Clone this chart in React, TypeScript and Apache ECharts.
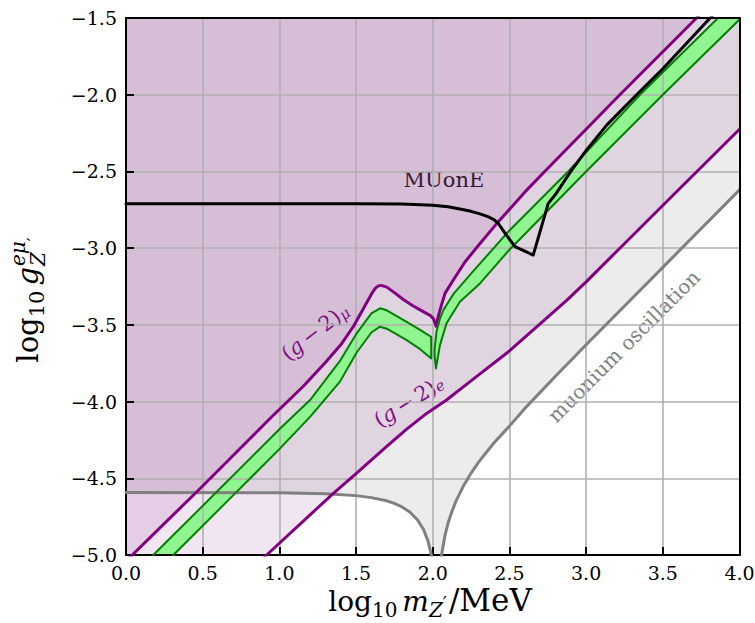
import { useEffect, useRef } from "react";
import * as echarts from "echarts";

type P = [number, number];

// ---- axes ----
const X_MIN = 0;
const X_MAX = 4;
const X_STEP = 0.5;
const Y_MIN = -5;
const Y_MAX = -1.5;
const Y_STEP = 0.5;

// ---- curves (log10 m/MeV, log10 g) ----
const GM2_MU: P[] = [
  [0.0, -5.04], [0.5, -4.55], [0.939, -4.11], [1.156, -3.9], [1.3, -3.745],
  [1.4, -3.63], [1.48, -3.515], [1.55, -3.39], [1.6, -3.3], [1.625, -3.262],
  [1.645, -3.246], [1.665, -3.243], [1.7, -3.254], [1.75, -3.29], [1.808, -3.335],
  [1.87, -3.375], [1.938, -3.414], [1.985, -3.44], [2.005, -3.46], [2.022, -3.51],
  [2.035, -3.45], [2.047, -3.404], [2.08, -3.295], [2.134, -3.208], [2.21, -3.09],
  [2.3, -2.98], [2.417, -2.84], [2.6, -2.635], [2.73, -2.5], [3.22, -2.0],
  [3.72, -1.5], [4.0, -1.22],
];

const GM2_E: P[] = [
  [0.0, -5.85], [0.917, -5.0], [1.35, -4.6], [1.5, -4.47], [1.7, -4.292],
  [1.83, -4.18], [1.95, -4.085], [2.09, -3.99], [2.243, -3.87], [2.5, -3.67],
  [2.72, -3.475], [2.873, -3.34], [3.0, -3.22], [3.2, -3.02], [3.568, -2.654],
  [4.0, -2.225],
];

const MUONIUM: P[] = [
  [0.0, -4.593], [1.0, -4.595], [1.3, -4.601], [1.5, -4.613], [1.6, -4.626],
  [1.7, -4.647], [1.75, -4.664], [1.8, -4.687], [1.85, -4.72], [1.9, -4.77],
  [1.94, -4.834], [1.97, -4.911], [1.99, -4.996], [2.005, -5.1], [2.02, -5.34],
  [2.027, -6.0], [2.035, -5.31], [2.05, -5.07], [2.06, -4.985], [2.08, -4.872],
  [2.1, -4.792], [2.125, -4.717], [2.15, -4.652], [2.2, -4.55], [2.25, -4.466],
  [2.3, -4.393], [2.4, -4.268], [2.5, -4.16], [2.6, -4.045], [2.7, -3.94],
  [2.8, -3.835], [3.0, -3.63], [3.5, -3.125], [4.0, -2.62],
];

const MUONE: P[] = [
  [0.0, -2.71], [1.0, -2.71], [1.5, -2.71], [1.8, -2.713], [2.0, -2.72],
  [2.1, -2.73], [2.177, -2.745], [2.25, -2.76], [2.308, -2.777], [2.36, -2.795],
  [2.4, -2.815], [2.427, -2.838], [2.48, -2.915], [2.536, -2.99], [2.6, -3.02],
  [2.655, -3.045], [2.753, -2.708], [2.797, -2.654], [2.9, -2.5], [3.003, -2.36],
  [3.134, -2.198], [3.329, -2.0], [3.503, -1.828], [3.807, -1.502], [3.85, -1.46],
];

// (g-2)_mu preferred band, two pieces
const BAND_L_HI: P[] = [
  [0.178, -5.0], [0.6, -4.58], [1.0, -4.18], [1.2, -3.99], [1.395, -3.735],
  [1.504, -3.555], [1.6, -3.425], [1.656, -3.392], [1.7, -3.405], [1.83, -3.48],
  [1.92, -3.535], [1.99, -3.578],
];
const BAND_L_LO: P[] = [
  [0.309, -5.0], [0.7, -4.61], [1.0, -4.31], [1.2, -4.1], [1.395, -3.87],
  [1.504, -3.68], [1.6, -3.55], [1.656, -3.512], [1.7, -3.525], [1.83, -3.6],
  [1.92, -3.66], [1.99, -3.72],
];
const BAND_R_HI: P[] = [
  [2.012, -3.66], [2.025, -3.54], [2.047, -3.46], [2.069, -3.404], [2.134, -3.3],
  [2.264, -3.15], [2.5, -2.885], [2.883, -2.5], [3.351, -2.0], [3.86, -1.5],
  [4.0, -1.36],
];
const BAND_R_LO: P[] = [
  [2.012, -3.7], [2.021, -3.784], [2.047, -3.632], [2.09, -3.49], [2.177, -3.35],
  [2.308, -3.23], [2.5, -3.01], [3.0, -2.5], [3.5, -2.0], [4.0, -1.51],
];

// ---- label anchors (data coords) ----
const LABEL_MUONE: P = [2.073, -2.601];
const LABEL_GMU: P = [1.262, -3.585];
const LABEL_GE: P = [1.871, -4.04];
const LABEL_MUONIUM: P = [3.279, -3.671];

const FONT = "'DejaVu Serif', 'Liberation Serif', serif";
const PURPLE = "#800080";
const GREEN = "#008000";
const GREEN_FILL = "#90f590";
const GRAY = "#808080";

function fmt(v: number): string {
  const s = Math.abs(v).toFixed(1);
  return v < 0 ? "\u2212" + s : s;
}

type Piece = { t: string; s: number; it?: boolean; sh?: number; gap?: number; stay?: boolean };

let measureCtx: CanvasRenderingContext2D | null = null;
function measure(t: string, s: number, it?: boolean): number {
  if (!measureCtx) measureCtx = document.createElement("canvas").getContext("2d");
  if (!measureCtx) return t.length * s * 0.6;
  measureCtx.font = `${it ? "italic " : ""}${s}px 'DejaVu Serif'`;
  return measureCtx.measureText(t).width;
}

function compose(pieces: Piece[], color: string) {
  let x = 0;
  let pending = 0;
  const items: any[] = [];
  for (const p of pieces) {
    const w = measure(p.t, p.s, p.it);
    items.push({
      type: "text",
      x,
      y: (p.sh || 0) - 0.35 * p.s,
      style: {
        text: p.t,
        fontFamily: FONT,
        fontSize: p.s,
        fontStyle: p.it ? "italic" : "normal",
        fill: color,
        align: "left",
        verticalAlign: "middle",
      },
      silent: true,
    });
    if (p.stay) {
      pending = Math.max(pending, w);
    } else {
      x += Math.max(w, pending) + (p.gap || 0);
      pending = 0;
    }
  }
  const total = x;
  for (const it of items) it.x -= total / 2;
  return items;
}

export default function App() {
  const ref = useRef<HTMLDivElement>(null);

  useEffect(() => {
    if (!ref.current) return;
    const chart = echarts.init(ref.current, null, { renderer: "svg" });

    const fill = (data: P[], color: string) => ({
      type: "line",
      data,
      symbol: "none",
      showSymbol: false,
      lineStyle: { width: 0, opacity: 0 },
      areaStyle: { origin: "end", color, opacity: 1 },
      z: 1,
      silent: true,
      clip: true,
    });
    const line = (data: P[], color: string, width: number, z = 6) => ({
      type: "line",
      data,
      symbol: "none",
      showSymbol: false,
      lineStyle: { color, width, cap: "round", join: "round" },
      z,
      silent: true,
      clip: true,
    });

    const axisLine = { show: true, onZero: false, lineStyle: { color: "#000", width: 2 } };
    const tickLabel = {
      show: true,
      formatter: (v: number) => fmt(v),
      fontFamily: FONT,
      fontSize: 19,
      color: "#000",
      showMinLabel: true,
      showMaxLabel: true,
      hideOverlap: false,
    };

    chart.setOption({
      animation: false,
      backgroundColor: "#ffffff",
      grid: { left: 126, top: 18, right: 15.5, bottom: 68, containLabel: false, outerBoundsMode: "none" },
      xAxis: [
        {
          type: "value",
          position: "bottom",
          min: X_MIN,
          max: X_MAX,
          interval: X_STEP,
          z: 3,
          axisLine,
          axisTick: { show: true, inside: true, length: 8, lineStyle: { color: "#000", width: 2 } },
          axisLabel: { ...tickLabel, margin: 8 },
          splitLine: { show: true, lineStyle: { color: "#b0b0b0", width: 1.6 } },
        },
        {
          type: "value",
          position: "top",
          min: X_MIN,
          max: X_MAX,
          interval: X_STEP,
          z: 8,
          axisLine,
          axisTick: { show: false },
          axisLabel: { show: false },
          splitLine: { show: false },
        },
      ],
      yAxis: [
        {
          type: "value",
          position: "left",
          min: Y_MIN,
          max: Y_MAX,
          interval: Y_STEP,
          z: 3,
          axisLine,
          axisTick: { show: true, inside: true, length: 8, lineStyle: { color: "#000", width: 2 } },
          axisLabel: { ...tickLabel, margin: 9 },
          splitLine: { show: true, lineStyle: { color: "#b0b0b0", width: 1.6 } },
        },
        {
          type: "value",
          position: "right",
          min: Y_MIN,
          max: Y_MAX,
          interval: Y_STEP,
          z: 8,
          axisLine,
          axisTick: { show: false },
          axisLabel: { show: false },
          splitLine: { show: false },
        },
      ],
      series: [
        fill(MUONIUM, "rgba(128,128,128,0.15)"),
        fill(GM2_E, "rgba(128,0,128,0.1)"),
        fill(GM2_MU, "rgba(128,0,128,0.1)"),
        {
          type: "custom",
          data: [[0, 0]],
          clip: true,
          z: 2,
          silent: true,
          renderItem: (_params: any, api: any) => {
            const poly = (hi: P[], lo: P[]) => ({
              type: "polygon",
              shape: {
                points: [...hi.map((p) => api.coord(p)), ...lo.slice().reverse().map((p) => api.coord(p))],
              },
              style: { fill: GREEN_FILL, stroke: null },
            });
            return {
              type: "group",
              children: [poly(BAND_L_HI, BAND_L_LO), poly(BAND_R_HI, BAND_R_LO)],
            };
          },
        },
        line(MUONIUM, GRAY, 3),
        line(GM2_E, PURPLE, 3),
        line(GM2_MU, PURPLE, 3),
        line([...BAND_L_HI, ...BAND_L_LO.slice().reverse()], GREEN, 2),
        line([...BAND_R_HI.slice().reverse(), ...BAND_R_LO], GREEN, 2),
        line(MUONE, "#000", 3, 7),
      ],
    });

    const px = (p: P) => chart.convertToPixel({ xAxisIndex: 0, yAxisIndex: 0 }, p) as unknown as number[];

    const mk = (p: P, rot: number, pieces: Piece[], color: string) => {
      const c = px(p);
      return {
        type: "group",
        x: c[0],
        y: c[1],
        rotation: (rot * Math.PI) / 180,
        z: 20,
        children: compose(pieces, color),
      };
    };

    const graphics: any[] = [
      mk(LABEL_MUONE, 0, [{ t: "MUonE", s: 21 }], "#111"),
      mk(
        LABEL_GMU,
        38,
        [
          { t: "(", s: 21 },
          { t: "g", s: 21, it: true, gap: 4 },
          { t: "\u2212", s: 21, gap: 4 },
          { t: "2)", s: 21 },
          { t: "\u03bc", s: 15, it: true, sh: 2 },
        ],
        PURPLE
      ),
      mk(
        LABEL_GE,
        32,
        [
          { t: "(", s: 21 },
          { t: "g", s: 21, it: true, gap: 4 },
          { t: "\u2212", s: 21, gap: 4 },
          { t: "2)", s: 21 },
          { t: "e", s: 15, it: true, sh: 1 },
        ],
        PURPLE
      ),
      mk(LABEL_MUONIUM, 45, [{ t: "muonium oscillation", s: 20 }], GRAY),
      {
        type: "group",
        x: 430,
        y: 611,
        z: 20,
        children: compose(
          [
            { t: "log", s: 28 },
            { t: "10", s: 20, sh: 6, gap: 5 },
            { t: "m", s: 28, it: true },
            { t: "Z", s: 20, it: true, sh: 6 },
            { t: "\u2032", s: 18, sh: -1, gap: 2 },
            { t: "/MeV", s: 31 },
          ],
          "#000"
        ),
      },
      {
        type: "group",
        x: 38,
        y: 300,
        rotation: Math.PI / 2,
        z: 20,
        children: compose(
          [
            { t: "log", s: 29 },
            { t: "10", s: 21, sh: 6, gap: 5 },
            { t: "g", s: 29, it: true, gap: 1 },
            { t: "e\u03bc", s: 20, it: true, sh: -13, stay: true },
            { t: "Z", s: 20, it: true, sh: 7 },
            { t: "\u2032", s: 17, sh: 1 },
          ],
          "#000"
        ),
      },
    ];

    chart.setOption({ graphic: graphics });

    return () => {
      chart.dispose();
    };
  }, []);

  return (
    <div
      ref={ref}
      style={{ position: "absolute", left: 0, top: 0, width: 755, height: 623, background: "#fff" }}
    />
  );
}
